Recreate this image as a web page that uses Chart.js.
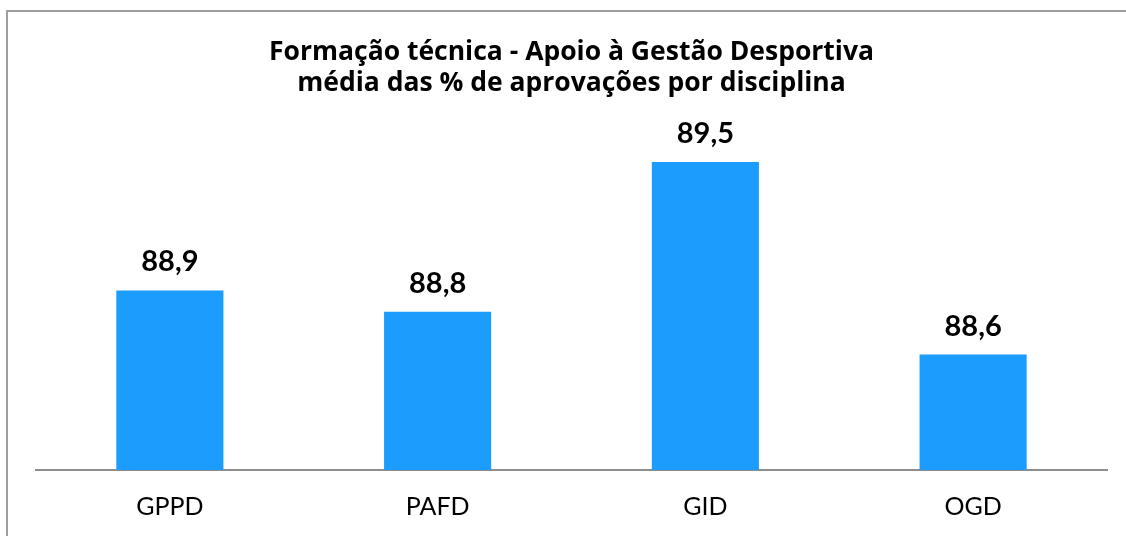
<!DOCTYPE html>
<html>
<head>
<meta charset="utf-8">
<script src="https://cdn.jsdelivr.net/npm/chart.js@4.4.0/dist/chart.umd.min.js"></script>
<style>
    html, body { margin: 0; padding: 0; background: #fff; overflow: hidden; }
    #frame { position: absolute; left: 6px; top: 10px; width: 1200px; height: 600px; border: 2px solid #9d9d9d; }
    #wrap { position: absolute; left: 0; top: 0; width: 1126px; height: 544px; }
</style>
</head>
<body>
<div id="frame"></div>
<div id="wrap"><canvas id="chart-target" width="1126" height="544"></canvas></div>
<script>
const categories = ['GPPD', 'PAFD', 'GID', 'OGD'];
const approvals = [88.9, 88.8, 89.5, 88.6];
const titleLines = ['Formação técnica - Apoio à Gestão Desportiva', 'média das % de aprovações por disciplina'];

Chart.defaults.font.family = "Lato, 'Noto Sans', sans-serif";
Chart.defaults.color = '#000';

// labels above each bar, like the excel data labels
const barLabels = {
    id: 'barLabels',
    afterDatasetsDraw(chart) {
        const ctx = chart.ctx;
        const meta = chart.getDatasetMeta(0);
        ctx.save();
        ctx.font = "bold 29px Lato, 'Noto Sans', sans-serif";
        ctx.fillStyle = '#000';
        ctx.textAlign = 'center';
        ctx.textBaseline = 'alphabetic';
        meta.data.forEach((bar, i) => {
            ctx.fillText(approvals[i].toFixed(1).replace('.', ','), bar.x, bar.y - 19);
        });
        ctx.restore();
    }
};

window.onload = () => {
    const target = document.getElementById('chart-target');
    new Chart(target, {
        type: 'bar',
        data: {
            labels: categories,
            datasets: [{
                data: approvals,
                backgroundColor: '#1c9cfd',
                barPercentage: 0.4,
                categoryPercentage: 1,
            }],
        },
        options: {
            responsive: false,
            animation: false,
            layout: {
                padding: { left: 36, right: 19, top: 0, bottom: 0 },
            },
            plugins: {
                legend: { display: false },
                tooltip: { enabled: false },
                title: {
                    display: true,
                    text: titleLines,
                    color: '#000',
                    font: { family: "'Open Sans', sans-serif", size: 26.5, weight: 'bold', lineHeight: 1.17 },
                    padding: { top: 37, bottom: 31 },
                },
            },
            scales: {
                x: {
                    grid: { display: false, drawTicks: false },
                    border: { display: true, color: '#8e8e8e', width: 2 },
                    ticks: { font: { size: 25 }, padding: 22, color: '#000' },
                },
                y: {
                    display: false,
                    min: 88.06,
                    max: 89.65,
                },
            },
        },
        plugins: [barLabels],
    });
};
</script>
</body>
</html>
